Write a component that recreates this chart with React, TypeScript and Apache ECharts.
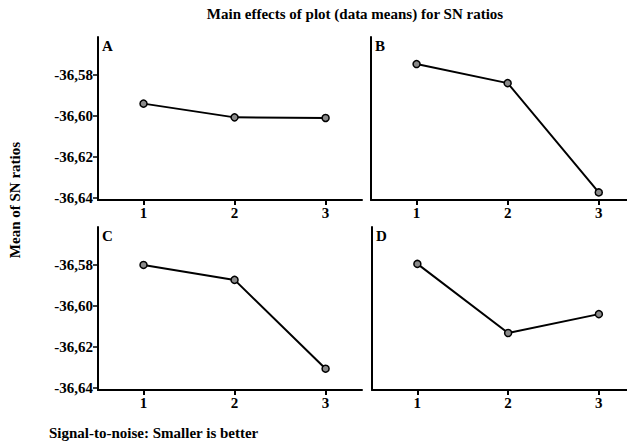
import React, { useEffect, useRef } from 'react';
import * as echarts from 'echarts';

const levels = [1, 2, 3];
const factorNames = ['A', 'B', 'C', 'D'];
const seriesA = [-36.594, -36.6007, -36.601];
const seriesB = [-36.5747, -36.584, -36.6373];
const seriesC = [-36.58, -36.5873, -36.6306];
const seriesD = [-36.5795, -36.6132, -36.604];
const yTickValues = [-36.64, -36.62, -36.6, -36.58];
const xTickValues = [1, 2, 3];
const titleText = 'Main effects of plot (data means) for SN ratios';
const yAxisTitle = 'Mean of SN ratios';
const footnote = 'Signal-to-noise: Smaller is better';

const FONT = '"Liberation Serif", "Times New Roman", "DejaVu Serif", serif';

const panels = [
  { left: 98, top: 37, width: 264, height: 163, xMax: 3.4, showY: true, values: seriesA },
  { left: 371, top: 37, width: 256, height: 163, xMax: 3.31, showY: false, values: seriesB },
  { left: 98, top: 227, width: 264, height: 163, xMax: 3.4, showY: true, values: seriesC },
  { left: 372, top: 227, width: 255, height: 163, xMax: 3.31, showY: false, values: seriesD },
];

export default function App() {
  const ref = useRef<HTMLDivElement>(null);
  useEffect(() => {
    if (!ref.current) return;
    const chart = echarts.init(ref.current, undefined, { renderer: 'svg' });
    const labelStyle = { fontFamily: FONT, fontWeight: 'bold' as const, fontSize: 15, color: '#000' };
    const option: any = {
      animation: false,
      backgroundColor: '#fff',
      grid: panels.map((p) => ({ left: p.left, top: p.top, width: p.width, height: p.height, containLabel: false })),
      xAxis: panels.map((p, i) => ({
        type: 'value',
        gridIndex: i,
        min: 0.5,
        max: p.xMax,
        axisLine: { show: true, onZero: false, lineStyle: { color: '#000', width: 2 } },
        axisTick: { show: true, customValues: xTickValues, length: 5, lineStyle: { color: '#000', width: 2 } },
        axisLabel: { show: true, customValues: xTickValues, margin: 5, ...labelStyle },
        splitLine: { show: false },
      })),
      yAxis: panels.map((p, i) => ({
        type: 'value',
        gridIndex: i,
        min: -36.641,
        max: -36.5615,
        axisLine: { show: true, onZero: false, lineStyle: { color: '#000', width: 2 } },
        axisTick: { show: p.showY, customValues: yTickValues, length: 5, lineStyle: { color: '#000', width: 1.5 } },
        axisLabel: {
          show: p.showY,
          customValues: yTickValues,
          margin: 5,
          formatter: (v: number) => v.toFixed(2).replace('.', ','),
          ...labelStyle,
        },
        splitLine: { show: false },
      })),
      series: panels.map((p, i) => ({
        type: 'line',
        xAxisIndex: i,
        yAxisIndex: i,
        data: levels.map((l, j) => [l, p.values[j]]),
        symbol: 'circle',
        symbolSize: 7,
        lineStyle: { color: '#000', width: 2 },
        itemStyle: { color: '#8a8a8a', borderColor: '#000', borderWidth: 1.5 },
      })),
      graphic: [
        {
          type: 'text',
          x: 355,
          y: 14,
          style: { text: titleText, fontFamily: FONT, fontWeight: 'bold', fontSize: 15, fill: '#000', align: 'center', verticalAlign: 'middle' },
        },
        {
          type: 'text',
          x: 15,
          y: 200,
          rotation: Math.PI / 2,
          style: { text: yAxisTitle, fontFamily: FONT, fontWeight: 'bold', fontSize: 15, fill: '#000', align: 'center', verticalAlign: 'middle' },
        },
        {
          type: 'text',
          x: 49,
          y: 433,
          style: { text: footnote, fontFamily: FONT, fontWeight: 'bold', fontSize: 15, fill: '#000', align: 'left', verticalAlign: 'middle' },
        },
        ...panels.map((p, i) => ({
          type: 'text',
          x: p.left + 4,
          y: p.top + 1,
          style: { text: factorNames[i], fontFamily: FONT, fontWeight: 'bold', fontSize: 15, fill: '#000', align: 'left', verticalAlign: 'top' },
        })),
      ],
    };
    chart.setOption(option);
    return () => chart.dispose();
  }, []);
  return <div ref={ref} style={{ position: 'fixed', left: 0, top: 0, width: 627, height: 447 }} />;
}
